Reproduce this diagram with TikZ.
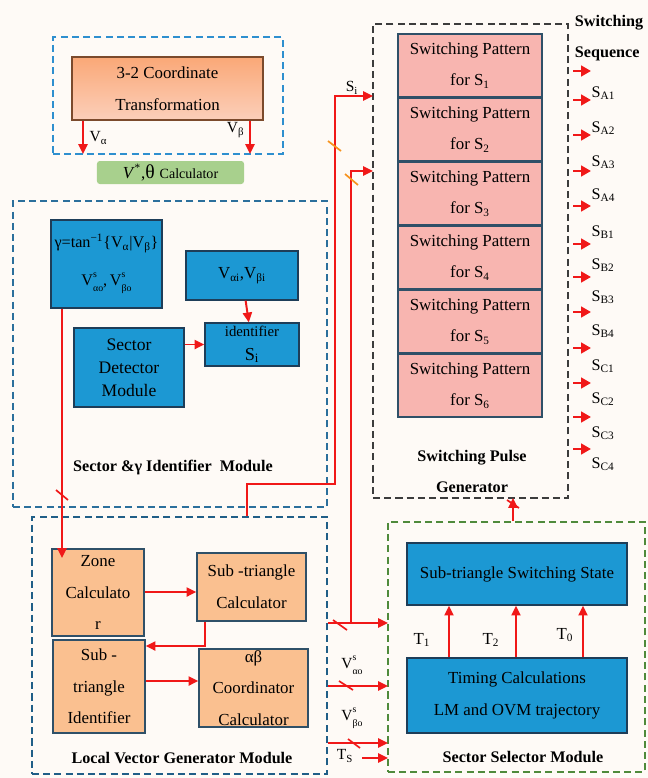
\documentclass[tikz,border=0pt]{standalone}
\usepackage{fontspec}
\setmainfont{Liberation Serif}
\usepackage{amsmath}
\usetikzlibrary{positioning,arrows.meta}
\definecolor{cred}{HTML}{F01818}
\definecolor{ctick}{HTML}{F7931E}
\definecolor{cblue}{HTML}{1C98D3}
\definecolor{cnavy}{HTML}{1E3D58}
\definecolor{corange}{HTML}{FAC090}
\definecolor{cpink}{HTML}{F8B5B0}
\definecolor{cslate}{HTML}{2F5068}
\definecolor{ctf}{HTML}{F9AF8C}
\definecolor{ctfedge}{HTML}{7B4A2C}
\definecolor{cgreen}{HTML}{A8D08D}
\definecolor{cdtop}{HTML}{2E8FCF}
\definecolor{cdsec}{HTML}{2B6F9C}
\definecolor{cdlvg}{HTML}{205E87}
\definecolor{cdspg}{HTML}{3C3C3C}
\definecolor{cdssm}{HTML}{4F8A3B}
\definecolor{bgpage}{HTML}{FEFAF6}
\tikzset{
  blk/.style={rectangle, draw=cnavy, line width=0.9pt, align=center, inner sep=1pt,
              font=\fontsize{12}{22.5}\selectfont},
  bluebox/.style={blk, fill=cblue},
  lvgblk/.style={blk, draw=cslate, fill=corange},
  patbox/.style={blk, draw=cslate, fill=cpink, minimum width=3.6cm, minimum height=1.575cm},
  module/.style={rectangle, line width=1.3pt, dash pattern=on 5pt off 3pt},
  title/.style={font=\fontsize{11.5}{22}\selectfont\bfseries, align=center},
  lbl/.style={font=\fontsize{11}{13}\selectfont, inner sep=1pt},
  flow/.style={-{Triangle[length=7pt,width=6.5pt]}, line width=1.4pt, draw=cred},
  outarr/.style={-{Triangle[length=7pt,width=7.5pt]}, line width=2pt, draw=cred},
  tick/.style={line width=1.2pt, draw=cred}
}
\newcommand{\vso}[1]{V\rlap{\raisebox{1.1ex}{\scriptsize s}}\raisebox{-0.8ex}{\scriptsize #1}}

\begin{document}
\begin{tikzpicture}[x=0.025cm, y=-0.025cm]
\fill[bgpage] (0,0) rectangle (648,778);
\useasboundingbox (0,0) rectangle (648,778);

% module frames
\node[module, draw=cdtop, minimum width=5.75cm, minimum height=2.925cm] (tfmod) at (168,95.5) {};
\node[module, draw=cdsec, minimum width=7.85cm, minimum height=7.65cm] (secmod) at (170,354) {};
\node[module, draw=cdlvg, minimum width=7.375cm, minimum height=6.425cm] (lvgmod) at (179.5,645.5) {};
\node[module, draw=cdspg, minimum width=4.875cm, minimum height=11.85cm] (spgmod) at (470.5,261) {};
\node[module, draw=cdssm, minimum width=6.425cm, minimum height=6.25cm] (ssmmod) at (516.5,647) {};

% transformation
\node[blk, draw=ctfedge, top color=ctf!85!orange, bottom color=ctf!60!white,
      minimum width=4.775cm, minimum height=1.575cm] (tf) at (167.5,88.5)
      {3-2 Coordinate\\Transformation};
\node[rectangle, rounded corners=2pt, fill=cgreen, minimum width=3.675cm, minimum height=0.575cm,
      inner sep=0pt] (calc) at (170.5,172.5)
      {\fontsize{12}{12}\selectfont\textit{V}\textsuperscript{*},\fontsize{14}{14}\selectfont θ
       \fontsize{10}{10}\selectfont Calculator};

% sector & gamma identifier
\node[bluebox, minimum width=2.775cm, minimum height=2.2cm,
      font=\fontsize{11.5}{27}\selectfont] (gam) at (106.5,264)
      {γ=tan\textsuperscript{−1}\{V\textsubscript{α}|V\textsubscript{β}\}\\\vso{αo},\,\vso{βo}};
\node[bluebox, minimum width=2.8cm, minimum height=1.225cm] (vab) at (242,275.5)
      {V\textsubscript{αi},V\textsubscript{βi}};
\node[bluebox, minimum width=2.35cm, minimum height=1.075cm,
      font=\fontsize{10.5}{17}\selectfont] (ident) at (252,344.5)
      {identifier\\{\fontsize{13}{13}\selectfont S\textsubscript{i}}};
\node[bluebox, minimum width=2.75cm, minimum height=1.975cm,
      font=\fontsize{12.5}{16.5}\selectfont] (sdet) at (129,367.5)
      {Sector\\Detector\\Module};
\node[title] (sectitle) at (173,468) {Sector \&γ Identifier~ Module};

% local vector generator
\node[lvgblk, minimum width=2.3cm, minimum height=2.175cm] (zone) at (98,592.5)
      {Zone\\Calculato\\r};
\node[lvgblk, minimum width=2.725cm, minimum height=1.7cm] (subcalc) at (251.5,587)
      {Sub -triangle\\Calculator};
\node[lvgblk, minimum width=2.3cm, minimum height=2.325cm] (subid) at (99,686.5)
      {Sub -\\triangle\\Identifier};
\node[lvgblk, minimum width=2.725cm, minimum height=1.75cm] (abc) at (253.5,688)
      {αβ\\Coordinator\\Calculator};
\node[title] (lvgtitle) at (182,758) {Local Vector Generator Module};

% switching pulse generator
\foreach \k in {1,...,6}{
  \node[patbox] (pat\k) at (470,{65.5+64*(\k-1)}) {Switching Pattern\\for S\textsubscript{\k}};
}
\node[title] (spgtitle) at (472,471) {Switching Pulse\\Generator};
\node[title, align=left] (seqtitle) at (609,38) {Switching\\Sequence};

% sector selector
\node[bluebox, minimum width=5.5cm, minimum height=1.55cm] (sss) at (517,574)
      {Sub-triangle Switching State};
\node[bluebox, minimum width=5.5cm, minimum height=1.875cm] (tim) at (517,695.5)
      {Timing Calculations\\LM and OVM trajectory};
\node[title] (ssmtitle) at (523,757) {Sector Selector Module};

% free ends
\coordinate (va) at (83,154);
\coordinate (vb) at (250,154);
\coordinate (gz) at (62,558);
\coordinate (lup) at (247,484);
\coordinate (siin) at (373,96);
\coordinate (sjin) at (373,171);
\coordinate (jx) at (351,623);
\coordinate (ssmin) at (388,623);
\coordinate (vaoin) at (388,686);
\coordinate (vboin) at (388,743);
\coordinate (tsin) at (388,758);
\coordinate (tsout) at (362,758);
\coordinate (spgin) at (513,498);
\coordinate (scd) at (205,646);
\coordinate (zr) at (0,592);
\coordinate (sr) at (0,681);
\coordinate (ta) at (449,0);
\coordinate (tb) at (516,0);
\coordinate (tc) at (583,0);

% connectors
\draw[flow] (tf.south -| va) -- (va);
\draw[flow] (tf.south -| vb) -- (vb);
\node[lbl, right] (valbl) at (88,138) {V\textsubscript{α}};
\node[lbl, left] (vblbl) at (246,130) {V\textsubscript{β}};
\draw[flow] (vab) -- (ident);
\draw[flow] (sdet.east |- ident) -- (ident);
\draw[flow] (gam.south -| gz) -- (gz);
\draw[tick] (56,490) -- (68,500);
\draw[flow] (lvgmod.north -| lup) -- (lup) -- (335,484) |- (siin);
\node[lbl] (silbl) at (352,88) {S\textsubscript{i}};
\draw[tick, draw=ctick] (328,141) -- (341,151);
\draw[flow] (lvgmod.east |- jx) -- (ssmin);
\draw[flow] (jx) |- (sjin);
\draw[tick, draw=ctick] (345,174) -- (358,185);
\draw[tick] (333,620) -- (347,630);
\draw[flow] (lvgmod.east |- vaoin) -- (vaoin);
\draw[tick] (339,681) -- (353,690);
\node[lbl] (vaolbl) at (352,665) {\vso{αo}};
\draw[flow] (lvgmod.east |- vboin) -- (vboin);
\draw[tick] (348,739) -- (360,748);
\node[lbl] (vbolbl) at (352,718) {\vso{βo}};
\draw[flow] (tsout) -- (tsin);
\node[lbl] (tslbl) at (345,756) {T\textsubscript{S}};
\draw[flow] (subcalc.south -| scd) -- (scd) -- (subid.east |- scd);
\draw[flow] (zone.east |- zr) -- (subcalc.west |- zr);
\draw[flow] (subid.east |- sr) -- (abc.west |- sr);
\draw[flow] (tim.north -| ta) -- (sss.south -| ta);
\draw[flow] (tim.north -| tb) -- (sss.south -| tb);
\draw[flow] (tim.north -| tc) -- (sss.south -| tc);
\node[lbl, font=\fontsize{12}{13}\selectfont] (t1lbl) at (422,640) {T\textsubscript{1}};
\node[lbl, font=\fontsize{12}{13}\selectfont] (t2lbl) at (491,640) {T\textsubscript{2}};
\node[lbl, font=\fontsize{12}{13}\selectfont] (t0lbl) at (565,635) {T\textsubscript{0}};
\draw[flow] (ssmmod.north -| spgin) -- (spgin);
\draw[tick] (507,500) -- (519,508);

% switching sequence outputs
\foreach \yy [count=\i] in {71,100,135,171,206,244,277,312,348,383,417,449}{
  \coordinate (o\i) at (591,\yy);
  \draw[outarr] (573,\yy) -- (o\i);
}
\foreach \yy/\nm in {93/A1,128/A2,162/A3,195/A4,232/B1,265/B2,297/B3,331/B4,366/C1,399/C2,433/C3,464/C4}{
  \node[lbl, right, font=\fontsize{11.5}{12}\selectfont] (s\nm) at (590,\yy) {S\textsubscript{\nm}};
}
\end{tikzpicture}
\end{document}
